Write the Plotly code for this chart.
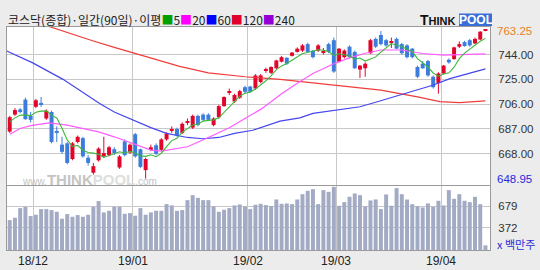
import plotly.graph_objects as go

# ---------------- data ----------------
month_labels = ["18/12", "19/01", "19/02", "19/03", "19/04"]
month_start_idx = [5, 24, 46, 63, 83]

opens = [685, 698, 702, 709.5, 697, 704, 707, 695, 700, 685.5,
         675, 676, 664, 677, 680, 665, 653.5, 663, 666, 667,
         671.5, 657.5, 677.5, 669, 683, 671.5, 655.5, 671, 674.5, 671,
         679, 686, 687, 684, 692, 688, 697, 698, 698, 690,
         696, 704.5, 715, 708, 711, 719, 719.5, 718, 723, 731.5,
         730, 733.5, 738.5, 741.5, 743, 746, 747, 752, 747, 747,
         745.5, 752, 755, 738.5, 742, 750, 746, 732.5, 733.5, 745,
         756, 759, 755, 753, 756, 752, 751, 748.5, 734.5, 737,
         739, 727, 722, 729.5, 740, 740.5, 750, 753.5, 755, 752.5,
         755.5, 762.2]
highs = [697, 703, 703, 711, 700, 710, 711.5, 702, 701, 689,
         681, 677, 677, 682, 681, 667, 661, 673, 681, 674,
         673, 667, 679, 676, 684, 672, 665, 675, 676, 680,
         684.5, 689, 688, 692, 695, 698, 698, 699, 699, 696,
         705.5, 712, 718, 714, 717, 720, 720, 729, 729, 734,
         735, 740, 743, 742, 746, 749.5, 752, 753, 747.5, 752,
         749, 753, 757, 749, 748, 751, 747, 736, 738, 756,
         757, 762, 756, 757, 757, 753, 752, 749, 735.5, 739,
         740, 728, 730.5, 736, 741, 750, 754, 754.5, 756, 757,
         762, 763.25]
lows = [684, 697, 699, 694, 692, 703, 704, 694, 676, 677,
        668, 660, 663, 676, 665, 659, 652, 662, 665, 666,
        667, 656.5, 666, 668, 665, 657, 648.95, 670, 667, 670,
        678, 684, 681, 683, 690, 687, 689, 693, 693, 689,
        695, 704, 713, 707, 710, 714, 715, 717, 722, 730,
        729, 733, 738, 736, 742.5, 745.5, 746, 745.5, 741, 746,
        744, 745, 730, 738, 741, 741, 733, 726, 727, 744.5,
        749, 751, 750, 749, 748, 744, 741, 741, 726, 733,
        727, 718, 714, 729, 737, 740, 749, 750, 750, 752,
        755, 761.8]
closes = [696, 701.5, 700, 694.5, 694, 709, 706, 701, 677, 684.5,
          669.5, 661, 676, 681, 666, 661, 658.5, 672, 668.5, 673,
          668.5, 666, 667, 675, 666, 658, 664, 673, 668, 679,
          683.5, 687, 682, 691, 693, 697, 690, 694, 694, 695,
          704.5, 711.5, 716, 713, 716, 715.5, 715.5, 728, 728, 732.5,
          734.5, 739.5, 742, 737, 745.5, 748.5, 751, 746, 742, 751,
          746.5, 746, 731, 748.5, 747, 742, 733.5, 735.5, 737, 755,
          750, 752, 751, 754, 748.5, 745, 742, 742, 727, 733.5,
          728, 719, 729.5, 735.5, 738, 749.5, 752, 750.5, 751, 756,
          761.5, 763]
volumes = [481, 514, 651, 670, 538, 557, 637, 637, 623, 599,
           500, 566, 528, 552, 528, 557, 670, 750, 590, 613,
           670, 670, 571, 580, 543, 651, 557, 590, 613, 613,
           708, 689, 613, 623, 764, 835, 797, 764, 764, 675,
           599, 628, 651, 689, 703, 675, 637, 698, 712, 694,
           679, 774, 712, 717, 708, 774, 849, 897, 920, 708,
           906, 882, 953, 684, 736, 812, 859, 835, 675, 760,
           774, 637, 845, 684, 935, 849, 773, 707, 679, 660,
           717, 670, 755, 688, 906, 783, 849, 755, 736, 811,
           707, 122]
pre_closes = [686, 690, 693, 697]   # 4 sessions before the window (for the 5-day average)

ma20_x = [0, 2, 4, 7.5, 11, 14, 17, 20, 23.5, 27, 29, 32, 34, 38, 42, 45, 48, 50,
          52, 55, 58, 62, 65, 68, 71, 75, 79, 83, 87, 91]
ma20_y = [683, 687.4, 689.5, 691.7, 690, 687.4, 684.8, 681, 676, 670.8, 670, 672,
          673.4, 680.5, 688, 695, 702, 707.8, 714, 722, 729.5, 737, 741.5, 745,
          747.5, 747.5, 744.8, 743.5, 744, 744.5]
ma60_x = [-0.6, 4.4, 10.2, 16, 17.2, 20, 23.5, 27, 30, 34, 37, 40, 43, 46.5, 51.7,
          55.5, 58, 62, 67, 70, 74.6, 80.9, 84.2, 91]
ma60_y = [746.8, 737.6, 725, 709.6, 706.5, 700, 693.8, 688, 683.6, 680.5, 679.5,
          680.5, 683.6, 686, 693, 695.5, 699, 701, 704, 707.5, 712.9, 720.5, 725.6, 733]
ma120_x = [7.5, 12, 16, 20, 23.6, 28, 32.5, 38, 45, 51.7, 58, 65, 71, 78, 82.3, 86, 91]
ma120_y = [765.5, 759.5, 754.4, 749.5, 745.2, 740, 735, 730, 727, 725, 722.3, 719.5,
           716.7, 711.6, 708, 707.2, 708.5]

price_ticks = [744, 725, 706, 687, 668]
vol_ticks = [679, 372]

# ---------------- styling ----------------
RED = "#e2062c"
BLUE = "#3c7ddc"
VOLC = "#a3abc4"
GRID = "#c8c8c8"
FRAME = "#9a9a9a"
PAPER = "#ececec"

n = len(closes)
idx = list(range(n))
all_c = pre_closes + closes
ma5 = [sum(all_c[i:i + 5]) / 5 for i in range(n)]

up = [c >= o for o, c in zip(opens, closes)]

fig = go.Figure()

# wicks
for flag, col in ((True, RED), (False, BLUE)):
    wx, wy = [], []
    for i in idx:
        if up[i] == flag:
            wx += [i, i, None]
            wy += [lows[i], highs[i], None]
    fig.add_trace(go.Scatter(x=wx, y=wy, mode="lines", line=dict(color=col, width=1),
                             hoverinfo="skip", showlegend=False, xaxis="x", yaxis="y"))

# bodies
body_base = [min(o, c) for o, c in zip(opens, closes)]
body_h = [max(abs(c - o), 0.8) for o, c in zip(opens, closes)]
fig.add_trace(go.Bar(x=idx, y=body_h, base=body_base, width=0.76,
                     marker=dict(color=[RED if u else BLUE for u in up], line=dict(width=0)),
                     showlegend=False, xaxis="x", yaxis="y"))

# moving averages
fig.add_trace(go.Scatter(x=ma120_x, y=ma120_y, mode="lines", line=dict(color="#f23c3c", width=1.2),
                         showlegend=False, xaxis="x", yaxis="y"))
fig.add_trace(go.Scatter(x=ma60_x, y=ma60_y, mode="lines", line=dict(color="#4646ee", width=1.2),
                         showlegend=False, xaxis="x", yaxis="y"))
fig.add_trace(go.Scatter(x=ma20_x, y=ma20_y, mode="lines", line=dict(color="#ff5cff", width=1.2),
                         showlegend=False, xaxis="x", yaxis="y"))
fig.add_trace(go.Scatter(x=idx, y=ma5, mode="lines", line=dict(color="#3cb83c", width=1.1),
                         showlegend=False, xaxis="x", yaxis="y"))

# volume
fig.add_trace(go.Bar(x=idx, y=volumes, width=0.76, marker=dict(color=VOLC, line=dict(width=0)),
                     showlegend=False, xaxis="x2", yaxis="y2"))

grid_x = [m - 0.5 for m in month_start_idx]
xr = [-0.52, 91.87]

axis_common = dict(showline=True, mirror=True, linecolor=FRAME, linewidth=1,
                   zeroline=False, gridcolor=GRID, gridwidth=1, ticks="", automargin=False)

fig.update_layout(
    width=540, height=270,
    margin=dict(l=7, r=50, t=27, b=20),
    paper_bgcolor=PAPER, plot_bgcolor="white",
    barmode="overlay", showlegend=False,
    font=dict(family="Liberation Sans, Arial, sans-serif", size=11, color="#333333"),
    xaxis=dict(domain=[0, 1], range=xr, anchor="y", tickvals=grid_x,
               showticklabels=False, **axis_common),
    yaxis=dict(domain=[0.2915, 1], range=[644.1, 765.1], side="right", anchor="x",
               tickvals=price_ticks, tickformat=".2f", ticklabelstandoff=5,
               tickfont=dict(size=11.5, color="#333333"), **axis_common),
    xaxis2=dict(domain=[0, 1], range=xr, anchor="y2", tickvals=grid_x,
                showticklabels=False, **axis_common),
    yaxis2=dict(domain=[0, 0.287], range=[56, 965], side="right", anchor="x2",
                tickvals=vol_ticks, ticklabelstandoff=5,
                tickfont=dict(size=11.5, color="#333333"), **axis_common),
)

def px_x(p):
    return (p - 7) / 483.0

def px_y(p):
    return (250 - p) / 223.0

title_html = ('코스닥(종합)·일간(90일)·이평'
              '<span style="color:#00a000">■</span>5'
              '<span style="color:#ff00ff">■</span>20'
              '<span style="color:#0000ff">■</span>60'
              '<span style="color:#e0002c">■</span>120'
              '<span style="color:#9400d3">■</span>240')

hi = max(highs)
lo = min(lows)

annotations = [
    dict(text=title_html, xref="paper", yref="paper", x=px_x(6), y=px_y(19.5),
         xanchor="left", yanchor="middle", showarrow=False,
         font=dict(family="Noto Sans CJK KR", size=12, color="#222222")),
    dict(text='<b><span style="font-size:14px">T</span>HINK</b>', xref="paper", yref="paper",
         x=px_x(458), y=px_y(20), xanchor="right", yanchor="middle", showarrow=False,
         font=dict(family="Liberation Sans", size=11, color="#111111")),
    dict(text="<b>POOL</b>", xref="paper", yref="paper", x=px_x(475.5), y=px_y(20),
         xanchor="center", yanchor="middle", showarrow=False,
         font=dict(family="Liberation Sans", size=12, color="white")),
    dict(text='www.<b><span style="font-size:15px">THINK</span><span style="font-size:15px;color:#dedede">POOL</span></b>.com',
         xref="paper", yref="paper", x=px_x(20), y=px_y(179), xanchor="left", yanchor="middle",
         showarrow=False, font=dict(family="Liberation Sans", size=10, color="#c4c4c4")),
    dict(text=f"{hi:.2f}", xref="paper", yref="y", x=1, y=hi, xshift=5, yshift=-2,
         xanchor="left", yanchor="middle", showarrow=False,
         font=dict(family="Liberation Sans", size=11.5, color="#e8801e")),
    dict(text=f"{lo:.2f}", xref="paper", yref="y", x=1, y=lo, xshift=5,
         xanchor="left", yanchor="middle", showarrow=False,
         font=dict(family="Liberation Sans", size=11.5, color="#2828e0")),
    dict(text="x 백만주", xref="paper", yref="paper", x=1, y=px_y(244), xshift=5,
         xanchor="left", yanchor="middle", showarrow=False,
         font=dict(family="Noto Sans CJK KR", size=11, color="#2a2ad8")),
]
# month labels under the volume panel, centred on the month boundaries
for gx, lab in zip(grid_x, month_labels):
    annotations.append(dict(text=lab, xref="x2", yref="paper", x=gx, y=px_y(260.5),
                            xanchor="center", yanchor="middle", showarrow=False,
                            font=dict(family="Liberation Sans", size=12, color="#222222")))
fig.update_layout(annotations=annotations)

fig.add_shape(type="rect", xref="paper", yref="paper",
              x0=px_x(459), x1=px_x(492), y0=px_y(26), y1=px_y(13.5),
              fillcolor="#3a6fd8", line=dict(width=0), layer="below")

fig.write_html("out.html")
